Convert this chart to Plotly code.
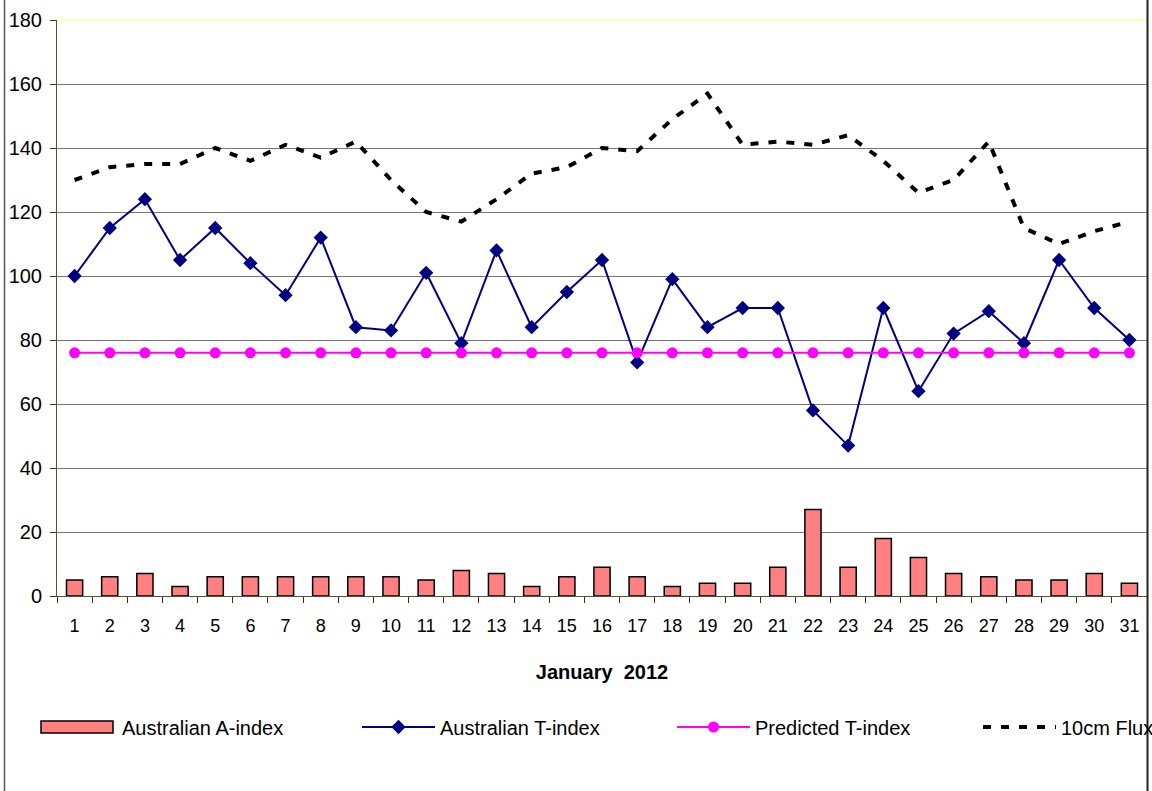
import plotly.graph_objects as go

days = [str(d) for d in range(1, 32)]

a_index = [5, 6, 7, 3, 6, 6, 6, 6, 6, 6, 5, 8, 7, 3, 6, 9, 6, 3, 4, 4,
           9, 27, 9, 18, 12, 7, 6, 5, 5, 7, 4]
t_index = [100, 115, 124, 105, 115, 104, 94, 112, 84, 83, 101, 79, 108, 84, 95, 105,
           73, 99, 84, 90, 90, 58, 47, 90, 64, 82, 89, 79, 105, 90, 80]
predicted_t = [76] * 31
flux_10cm = [130, 134, 135, 135, 140, 136, 141, 137, 142, 130, 120, 117, 124, 132, 134, 140,
             139, 149, 157, 141, 142, 141, 144, 136, 126, 130, 142, 115, 110, 114, 117]

font = "Liberation Sans, Arial, sans-serif"
W, H = 1152, 791
bar_color = "#FF8080"

fig = go.Figure()

fig.add_trace(go.Bar(
    x=days, y=a_index, name="Australian A-index",
    marker=dict(color=bar_color, line=dict(color="black", width=1.5)),
    showlegend=False,
))
# legend entry for the bars; its wide swatch is drawn as a shape below
fig.add_trace(go.Scatter(
    x=[None], y=[None], name="Australian A-index", mode="lines",
    line=dict(color="rgba(0,0,0,0)", width=1),
    legend="legend",
))
fig.add_trace(go.Scatter(
    x=days, y=t_index, name="Australian T-index", mode="lines+markers",
    line=dict(color="#000080", width=2),
    marker=dict(symbol="diamond", size=11, color="#000080"),
    legend="legend2",
))
fig.add_trace(go.Scatter(
    x=days, y=predicted_t, name="Predicted T-index", mode="lines+markers",
    line=dict(color="#FF00FF", width=2),
    marker=dict(symbol="circle", size=11, color="#FF00FF"),
    legend="legend3",
))
fig.add_trace(go.Scatter(
    x=days, y=flux_10cm, name="10cm Flux", mode="lines",
    line=dict(color="black", width=4, dash="8px,10px"),
    legend="legend4",
))

# plot area: x 57..1147, y 20..596
L, R, T, B = 57, 5, 20, 195
pw = W - L - R
ph = H - T - B


def px_x(p):
    return (p - L) / pw


def px_y(p):
    return (H - B - p) / ph


leg_common = dict(orientation="h", yanchor="middle", xanchor="left",
                  xref="container", yref="container",
                  font=dict(family=font, size=20, color="black"),
                  itemwidth=73, bgcolor="rgba(0,0,0,0)")
leg_y = (H - 727) / H

fig.update_layout(
    width=W, height=H,
    showlegend=True,
    margin=dict(l=L, r=R, t=T, b=B, autoexpand=False),
    paper_bgcolor="white", plot_bgcolor="white",
    bargap=0.54,
    font=dict(family=font, size=18, color="black"),
    legend=dict(x=39 / W, y=leg_y, **leg_common),
    legend2=dict(x=357 / W, y=leg_y, **leg_common),
    legend3=dict(x=672 / W, y=leg_y, **leg_common),
    legend4=dict(x=978 / W, y=leg_y, **leg_common),
    xaxis=dict(
        type="category",
        range=[-0.5, 30.5], autorange=False,
        tickson="boundaries",
        ticks="outside", ticklen=6, tickcolor="#333",
        showline=True, linecolor="#55552a", linewidth=1,
        showgrid=False,
        tickfont=dict(family=font, size=18),
        ticklabelstandoff=13,
        title=dict(text="<b>January\u00a0\u00a02012</b>",
                   font=dict(family=font, size=20), standoff=30),
    ),
    yaxis=dict(
        range=[0, 180], dtick=20, autorange=False,
        ticks="outside", ticklen=6, tickcolor="#333",
        showline=True, linecolor="#55552a", linewidth=1,
        showgrid=True, gridcolor="#777", gridwidth=1,
        zeroline=False,
        tickfont=dict(family=font, size=20),
        ticklabelstandoff=4,
    ),
    shapes=[
        # light yellow top border of plot area
        dict(type="line", xref="paper", yref="paper", x0=0, x1=1, y0=1, y1=1,
             line=dict(color="#FFFF99", width=1.5)),
        # chart area border, left and right
        dict(type="line", xref="paper", yref="paper", x0=px_x(4.5), x1=px_x(4.5),
             y0=px_y(0), y1=px_y(H), line=dict(color="#555", width=1.5)),
        dict(type="line", xref="paper", yref="paper", x0=px_x(1147.5), x1=px_x(1147.5),
             y0=px_y(0), y1=px_y(H), line=dict(color="#222", width=2)),
        # wide legend swatch for the A-index bars
        dict(type="rect", xref="paper", yref="paper",
             x0=px_x(41), x1=px_x(113), y0=px_y(721), y1=px_y(733),
             fillcolor=bar_color, line=dict(color="black", width=1.5)),
    ],
)

# drop the default 8px page margin so the figure sits at the window origin
fig.write_html("out.html", config={"displayModeBar": False},
               post_script="document.body.style.margin='0';")
